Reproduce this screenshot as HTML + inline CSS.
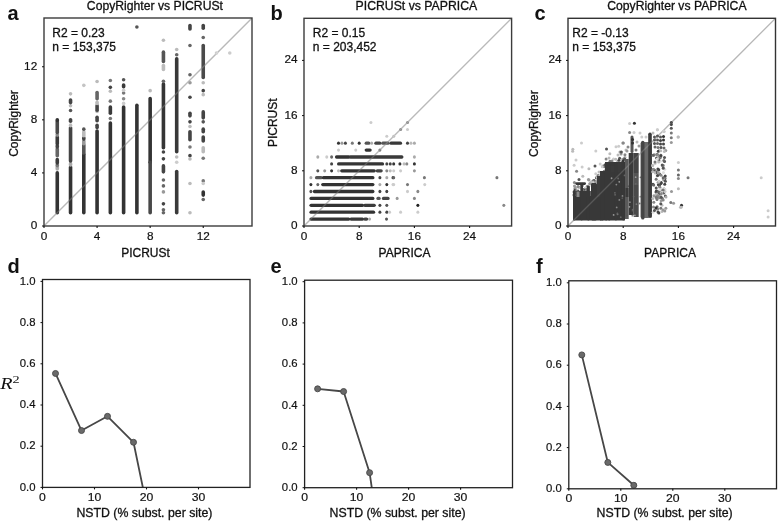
<!DOCTYPE html><html><head><meta charset="utf-8"><style>html,body{margin:0;padding:0;background:#fff;width:778px;height:521px;overflow:hidden}svg{display:block}</style></head><body>
<svg width="778" height="521" viewBox="0 0 778 521">
<rect width="778" height="521" fill="#fff"/>
<g style="will-change:transform">
<svg x="0" y="0" width="778" height="521" overflow="visible">
<defs><clipPath id="ca"><rect x="44.0" y="18.0" width="208.0" height="208.0"/></clipPath></defs>
<g clip-path="url(#ca)">
<line x1="44.0" y1="226.0" x2="252.0" y2="18.0" stroke="#a8a8a8" stroke-width="1.25"/>
<rect x="55.47" y="171.12" width="3.60" height="43.41" rx="1.80" fill="#333"/>
<rect x="55.47" y="165.15" width="3.60" height="5.59" rx="1.80" fill="#aaa"/>
<rect x="55.47" y="163.16" width="3.60" height="4.26" rx="1.80" fill="#777"/>
<rect x="55.47" y="157.85" width="3.60" height="6.92" rx="1.80" fill="#3c3c3c"/>
<rect x="55.47" y="147.23" width="3.60" height="10.24" rx="1.80" fill="#666"/>
<rect x="55.47" y="143.92" width="3.60" height="4.93" rx="1.80" fill="#444"/>
<rect x="55.47" y="135.29" width="3.60" height="10.24" rx="1.80" fill="#3a3a3a"/>
<rect x="55.47" y="132.64" width="3.60" height="4.26" rx="1.80" fill="#888"/>
<rect x="55.47" y="120.03" width="3.60" height="14.22" rx="1.80" fill="#4a4a4a"/>
<rect x="55.47" y="118.04" width="3.60" height="4.26" rx="1.80" fill="#333"/>
<rect x="68.74" y="165.15" width="3.60" height="49.38" rx="1.80" fill="#333"/>
<rect x="68.74" y="161.83" width="3.60" height="4.93" rx="1.80" fill="#aaa"/>
<rect x="68.74" y="126.00" width="3.60" height="36.78" rx="1.80" fill="#444"/>
<rect x="68.74" y="123.35" width="3.60" height="4.26" rx="1.80" fill="#bbb"/>
<rect x="68.74" y="118.04" width="3.60" height="4.93" rx="1.80" fill="#444"/>
<rect x="68.74" y="108.75" width="3.60" height="3.60" rx="1.80" fill="#555"/>
<rect x="68.74" y="103.97" width="3.60" height="3.60" rx="1.80" fill="#bbb"/>
<rect x="68.74" y="98.14" width="3.60" height="6.25" rx="1.80" fill="#444"/>
<rect x="68.74" y="92.03" width="3.60" height="3.60" rx="1.80" fill="#bbb"/>
<rect x="82.01" y="152.54" width="3.60" height="61.99" rx="1.80" fill="#333"/>
<rect x="82.01" y="143.25" width="3.60" height="11.56" rx="1.80" fill="#555"/>
<rect x="82.01" y="139.27" width="3.60" height="6.25" rx="1.80" fill="#999"/>
<rect x="82.01" y="135.95" width="3.60" height="4.93" rx="1.80" fill="#444"/>
<rect x="82.01" y="129.98" width="3.60" height="7.58" rx="1.80" fill="#bbb"/>
<rect x="82.01" y="127.33" width="3.60" height="3.60" rx="1.80" fill="#555"/>
<rect x="82.01" y="83.54" width="3.60" height="3.60" rx="1.80" fill="#c4c4c4"/>
<rect x="95.28" y="129.19" width="3.60" height="85.34" rx="1.80" fill="#333"/>
<rect x="95.28" y="123.48" width="3.60" height="5.86" rx="1.80" fill="#444"/>
<rect x="95.28" y="115.39" width="3.60" height="7.05" rx="1.80" fill="#444"/>
<rect x="95.28" y="109.68" width="3.60" height="3.60" rx="1.80" fill="#bbb"/>
<rect x="95.28" y="103.84" width="3.60" height="8.24" rx="1.80" fill="#444"/>
<rect x="95.28" y="100.52" width="3.60" height="4.66" rx="1.80" fill="#bbb"/>
<rect x="95.28" y="90.70" width="3.60" height="9.84" rx="1.80" fill="#666"/>
<rect x="95.28" y="79.69" width="3.60" height="3.60" rx="1.80" fill="#bbb"/>
<rect x="108.55" y="121.22" width="3.60" height="93.31" rx="1.80" fill="#333"/>
<rect x="108.55" y="116.71" width="3.60" height="3.60" rx="1.80" fill="#777"/>
<rect x="108.55" y="105.17" width="3.60" height="9.84" rx="1.80" fill="#3a3a3a"/>
<rect x="108.55" y="99.33" width="3.60" height="3.60" rx="1.80" fill="#777"/>
<rect x="108.55" y="89.51" width="3.60" height="3.60" rx="1.80" fill="#bbb"/>
<rect x="108.55" y="85.53" width="3.60" height="3.60" rx="1.80" fill="#444"/>
<rect x="108.55" y="78.63" width="3.60" height="3.60" rx="1.80" fill="#777"/>
<rect x="121.82" y="105.17" width="3.60" height="109.36" rx="1.80" fill="#333"/>
<rect x="121.82" y="101.59" width="3.60" height="3.60" rx="1.80" fill="#ccc"/>
<rect x="121.82" y="96.94" width="3.60" height="3.60" rx="1.80" fill="#888"/>
<rect x="121.82" y="91.23" width="3.60" height="3.60" rx="1.80" fill="#777"/>
<rect x="121.82" y="88.45" width="3.60" height="3.60" rx="1.80" fill="#ccc"/>
<rect x="121.82" y="83.27" width="3.60" height="5.19" rx="1.80" fill="#3a3a3a"/>
<rect x="121.82" y="77.96" width="3.60" height="3.60" rx="1.80" fill="#555"/>
<rect x="135.09" y="103.44" width="3.60" height="111.09" rx="1.80" fill="#333"/>
<rect x="135.09" y="25.15" width="3.60" height="3.60" rx="1.80" fill="#555"/>
<rect x="148.36" y="96.81" width="3.60" height="67.30" rx="1.80" fill="#333"/>
<rect x="148.36" y="160.50" width="3.60" height="54.03" rx="1.80" fill="#484848"/>
<rect x="148.36" y="88.85" width="3.60" height="3.60" rx="1.80" fill="#bbb"/>
<rect x="161.63" y="82.21" width="3.60" height="67.30" rx="1.80" fill="#353535"/>
<rect x="161.63" y="150.15" width="3.60" height="3.60" rx="1.80" fill="#444"/>
<rect x="161.63" y="157.05" width="3.60" height="3.60" rx="1.80" fill="#444"/>
<rect x="161.63" y="164.09" width="3.60" height="9.57" rx="1.80" fill="#444"/>
<rect x="161.63" y="178.15" width="3.60" height="3.60" rx="1.80" fill="#666"/>
<rect x="161.63" y="184.12" width="3.60" height="3.60" rx="1.80" fill="#666"/>
<rect x="161.63" y="190.10" width="3.60" height="3.60" rx="1.80" fill="#999"/>
<rect x="161.63" y="202.04" width="3.60" height="3.60" rx="1.80" fill="#444"/>
<rect x="161.63" y="208.01" width="3.60" height="3.60" rx="1.80" fill="#666"/>
<rect x="161.63" y="210.93" width="3.60" height="3.60" rx="1.80" fill="#666"/>
<rect x="161.63" y="79.56" width="3.60" height="3.60" rx="1.80" fill="#666"/>
<rect x="161.63" y="63.63" width="3.60" height="7.58" rx="1.80" fill="#bbb"/>
<rect x="161.63" y="50.36" width="3.60" height="12.89" rx="1.80" fill="#555"/>
<rect x="161.63" y="38.42" width="3.60" height="3.60" rx="1.80" fill="#bbb"/>
<rect x="174.90" y="57.00" width="3.60" height="96.49" rx="1.80" fill="#383838"/>
<rect x="174.90" y="169.79" width="3.60" height="44.74" rx="1.80" fill="#3a3a3a"/>
<rect x="174.90" y="155.20" width="3.60" height="3.60" rx="1.80" fill="#bbb"/>
<rect x="174.90" y="160.50" width="3.60" height="3.60" rx="1.80" fill="#ccc"/>
<rect x="174.90" y="53.02" width="3.60" height="3.60" rx="1.80" fill="#666"/>
<rect x="174.90" y="47.71" width="3.60" height="3.60" rx="1.80" fill="#bbb"/>
<rect x="188.17" y="23.82" width="3.60" height="6.92" rx="1.80" fill="#444"/>
<rect x="188.17" y="43.73" width="3.60" height="3.60" rx="1.80" fill="#666"/>
<rect x="188.17" y="72.92" width="3.60" height="3.60" rx="1.80" fill="#666"/>
<rect x="188.17" y="80.88" width="3.60" height="3.60" rx="1.80" fill="#999"/>
<rect x="188.17" y="95.48" width="3.60" height="3.60" rx="1.80" fill="#444"/>
<rect x="188.17" y="111.41" width="3.60" height="6.25" rx="1.80" fill="#444"/>
<rect x="188.17" y="120.03" width="3.60" height="3.60" rx="1.80" fill="#444"/>
<rect x="188.17" y="124.68" width="3.60" height="3.60" rx="1.80" fill="#bbb"/>
<rect x="188.17" y="129.98" width="3.60" height="11.56" rx="1.80" fill="#444"/>
<rect x="188.17" y="145.24" width="3.60" height="3.60" rx="1.80" fill="#777"/>
<rect x="188.17" y="153.87" width="3.60" height="3.60" rx="1.80" fill="#444"/>
<rect x="188.17" y="157.19" width="3.60" height="3.60" rx="1.80" fill="#bbb"/>
<rect x="188.17" y="181.74" width="3.60" height="3.60" rx="1.80" fill="#bbb"/>
<rect x="188.17" y="210.93" width="3.60" height="3.60" rx="1.80" fill="#bbb"/>
<rect x="201.44" y="23.82" width="3.60" height="6.25" rx="1.80" fill="#444"/>
<rect x="201.44" y="35.77" width="3.60" height="3.60" rx="1.80" fill="#666"/>
<rect x="201.44" y="43.73" width="3.60" height="35.45" rx="1.80" fill="#4a4a4a"/>
<rect x="201.44" y="80.88" width="3.60" height="3.60" rx="1.80" fill="#bbb"/>
<rect x="201.44" y="88.85" width="3.60" height="3.60" rx="1.80" fill="#444"/>
<rect x="201.44" y="92.83" width="3.60" height="3.60" rx="1.80" fill="#bbb"/>
<rect x="201.44" y="110.08" width="3.60" height="9.57" rx="1.80" fill="#444"/>
<rect x="201.44" y="120.03" width="3.60" height="3.60" rx="1.80" fill="#555"/>
<rect x="201.44" y="127.33" width="3.60" height="6.25" rx="1.80" fill="#444"/>
<rect x="201.44" y="135.29" width="3.60" height="7.58" rx="1.80" fill="#444"/>
<rect x="201.44" y="145.91" width="3.60" height="7.58" rx="1.80" fill="#bbb"/>
<rect x="201.44" y="156.52" width="3.60" height="3.60" rx="1.80" fill="#777"/>
<rect x="201.44" y="179.08" width="3.60" height="3.60" rx="1.80" fill="#777"/>
<rect x="201.44" y="181.74" width="3.60" height="3.60" rx="1.80" fill="#ccc"/>
<rect x="201.44" y="190.23" width="3.60" height="6.65" rx="1.80" fill="#333"/>
<rect x="201.44" y="197.66" width="3.60" height="3.60" rx="1.80" fill="#666"/>
<rect x="214.71" y="51.16" width="3.60" height="3.60" rx="1.80" fill="#ccc"/>
<rect x="227.98" y="51.16" width="3.60" height="3.60" rx="1.80" fill="#ccc"/>
<line x1="44.0" y1="226.0" x2="252.0" y2="18.0" stroke="#fff" stroke-opacity="0.2" stroke-width="1.25"/>
</g>
</svg>
<rect x="44.00" y="18.00" width="208.00" height="208.00" fill="none" stroke="#3c3c3c" stroke-width="1.4"/>
<line x1="44.00" y1="226.00" x2="44.00" y2="228.00" stroke="#111" stroke-width="1.1"/>
<line x1="97.08" y1="226.00" x2="97.08" y2="228.00" stroke="#111" stroke-width="1.1"/>
<line x1="150.16" y1="226.00" x2="150.16" y2="228.00" stroke="#111" stroke-width="1.1"/>
<line x1="203.24" y1="226.00" x2="203.24" y2="228.00" stroke="#111" stroke-width="1.1"/>
<line x1="42.00" y1="226.00" x2="44.00" y2="226.00" stroke="#111" stroke-width="1"/>
<line x1="42.00" y1="172.92" x2="44.00" y2="172.92" stroke="#111" stroke-width="1"/>
<line x1="42.00" y1="119.84" x2="44.00" y2="119.84" stroke="#111" stroke-width="1"/>
<line x1="42.00" y1="66.76" x2="44.00" y2="66.76" stroke="#111" stroke-width="1"/>
<text transform="translate(44.00,240.00) scale(1.1,1)" font-family='"Liberation Sans", sans-serif' font-size="10.7" text-anchor="middle" fill="#111" stroke="#111" stroke-width="0.18">0</text>
<text transform="translate(37.20,228.80) scale(1.1,1)" font-family='"Liberation Sans", sans-serif' font-size="10.7" text-anchor="end" fill="#111" stroke="#111" stroke-width="0.18">0</text>
<text transform="translate(97.08,240.00) scale(1.1,1)" font-family='"Liberation Sans", sans-serif' font-size="10.7" text-anchor="middle" fill="#111" stroke="#111" stroke-width="0.18">4</text>
<text transform="translate(37.20,175.72) scale(1.1,1)" font-family='"Liberation Sans", sans-serif' font-size="10.7" text-anchor="end" fill="#111" stroke="#111" stroke-width="0.18">4</text>
<text transform="translate(150.16,240.00) scale(1.1,1)" font-family='"Liberation Sans", sans-serif' font-size="10.7" text-anchor="middle" fill="#111" stroke="#111" stroke-width="0.18">8</text>
<text transform="translate(37.20,122.64) scale(1.1,1)" font-family='"Liberation Sans", sans-serif' font-size="10.7" text-anchor="end" fill="#111" stroke="#111" stroke-width="0.18">8</text>
<text transform="translate(203.24,240.00) scale(1.1,1)" font-family='"Liberation Sans", sans-serif' font-size="10.7" text-anchor="middle" fill="#111" stroke="#111" stroke-width="0.18">12</text>
<text transform="translate(37.20,69.56) scale(1.1,1)" font-family='"Liberation Sans", sans-serif' font-size="10.7" text-anchor="end" fill="#111" stroke="#111" stroke-width="0.18">12</text>
<text x="154.90" y="10.00" font-family='"Liberation Sans", sans-serif' font-size="12.2" font-weight="400" text-anchor="middle" fill="#111" stroke="#111" stroke-width="0.3" >CopyRighter vs PICRUSt</text>
<text x="145.50" y="257.00" font-family='"Liberation Sans", sans-serif' font-size="12" font-weight="400" text-anchor="middle" fill="#111" stroke="#111" stroke-width="0.3" >PICRUSt</text>
<text x="18.00" y="123.50" font-family='"Liberation Sans", sans-serif' font-size="12" font-weight="400" text-anchor="middle" fill="#111" stroke="#111" stroke-width="0.3" transform="rotate(-90 18 123.5)">CopyRighter</text>
<text x="52.30" y="36.50" font-family='"Liberation Sans", sans-serif' font-size="12" font-weight="400" text-anchor="start" fill="#111" stroke="#111" stroke-width="0.3" >R2 = 0.23</text>
<text x="52.30" y="50.80" font-family='"Liberation Sans", sans-serif' font-size="12" font-weight="400" text-anchor="start" fill="#111" stroke="#111" stroke-width="0.3" >n = 153,375</text>
<text x="7.50" y="19.70" font-family='"Liberation Sans", sans-serif' font-size="20" font-weight="700" text-anchor="start" fill="#111" stroke="#111" stroke-width="0" >a</text>
<defs><clipPath id="cb"><rect x="304.0" y="18.3" width="207.60000000000002" height="207.7"/></clipPath></defs>
<g clip-path="url(#cb)">
<line x1="304.0" y1="226.0" x2="511.6" y2="18.3" stroke="#a8a8a8" stroke-width="1.25"/>
<rect x="309.40" y="217.45" width="40.95" height="3.30" ry="1.65" fill="#333"/>
<rect x="349.42" y="217.45" width="14.73" height="3.30" ry="1.65" fill="#383838"/>
<rect x="363.22" y="217.45" width="5.07" height="3.30" ry="1.65" fill="#444"/>
<rect x="368.05" y="217.45" width="3.00" height="3.30" ry="1.65" fill="#aaa"/>
<rect x="385.02" y="217.45" width="3.00" height="3.30" ry="1.65" fill="#555"/>
<rect x="309.40" y="210.55" width="65.79" height="3.30" ry="1.65" fill="#333"/>
<rect x="378.40" y="210.55" width="3.00" height="3.30" ry="1.65" fill="#444"/>
<rect x="385.30" y="210.55" width="3.00" height="3.30" ry="1.65" fill="#444"/>
<rect x="388.06" y="210.55" width="3.00" height="3.30" ry="1.65" fill="#ccc"/>
<rect x="399.10" y="210.55" width="3.00" height="3.30" ry="1.65" fill="#ccc"/>
<rect x="416.35" y="210.55" width="3.00" height="3.30" ry="1.65" fill="#ccc"/>
<rect x="309.40" y="203.65" width="54.75" height="3.30" ry="1.65" fill="#333"/>
<rect x="363.22" y="203.65" width="12.66" height="3.30" ry="1.65" fill="#3c3c3c"/>
<rect x="378.40" y="203.65" width="3.00" height="3.30" ry="1.65" fill="#444"/>
<rect x="385.30" y="203.65" width="3.00" height="3.30" ry="1.65" fill="#555"/>
<rect x="416.35" y="203.65" width="3.00" height="3.30" ry="1.65" fill="#222"/>
<rect x="502.32" y="203.65" width="3.00" height="3.30" ry="1.65" fill="#888"/>
<rect x="309.40" y="196.75" width="65.10" height="3.30" ry="1.65" fill="#333"/>
<rect x="376.33" y="196.75" width="4.38" height="3.30" ry="1.65" fill="#555"/>
<rect x="381.85" y="196.75" width="7.83" height="3.30" ry="1.65" fill="#444"/>
<rect x="395.65" y="196.75" width="3.00" height="3.30" ry="1.65" fill="#999"/>
<rect x="412.90" y="196.75" width="3.00" height="3.30" ry="1.65" fill="#888"/>
<rect x="309.40" y="189.85" width="3.00" height="3.30" ry="1.65" fill="#555"/>
<rect x="312.85" y="189.85" width="61.65" height="3.30" ry="1.65" fill="#333"/>
<rect x="378.40" y="189.85" width="3.00" height="3.30" ry="1.65" fill="#444"/>
<rect x="385.30" y="189.85" width="3.00" height="3.30" ry="1.65" fill="#444"/>
<rect x="406.00" y="189.85" width="3.00" height="3.30" ry="1.65" fill="#ccc"/>
<rect x="416.35" y="189.85" width="3.00" height="3.30" ry="1.65" fill="#888"/>
<rect x="309.40" y="182.95" width="3.00" height="3.30" ry="1.65" fill="#333"/>
<rect x="316.30" y="182.95" width="3.00" height="3.30" ry="1.65" fill="#666"/>
<rect x="321.13" y="182.95" width="53.37" height="3.30" ry="1.65" fill="#333"/>
<rect x="378.40" y="182.95" width="3.00" height="3.30" ry="1.65" fill="#aaa"/>
<rect x="385.30" y="182.95" width="3.00" height="3.30" ry="1.65" fill="#333"/>
<rect x="391.51" y="182.95" width="3.00" height="3.30" ry="1.65" fill="#ccc"/>
<rect x="392.20" y="182.95" width="3.00" height="3.30" ry="1.65" fill="#ccc"/>
<rect x="406.00" y="182.95" width="3.00" height="3.30" ry="1.65" fill="#777"/>
<rect x="423.25" y="182.95" width="3.00" height="3.30" ry="1.65" fill="#ccc"/>
<rect x="309.40" y="176.05" width="3.00" height="3.30" ry="1.65" fill="#aaa"/>
<rect x="314.92" y="176.05" width="7.83" height="3.30" ry="1.65" fill="#555"/>
<rect x="321.82" y="176.05" width="52.68" height="3.30" ry="1.65" fill="#333"/>
<rect x="378.40" y="176.05" width="3.00" height="3.30" ry="1.65" fill="#444"/>
<rect x="385.30" y="176.05" width="3.00" height="3.30" ry="1.65" fill="#aaa"/>
<rect x="391.51" y="176.05" width="3.00" height="3.30" ry="1.65" fill="#333"/>
<rect x="392.20" y="176.05" width="3.00" height="3.30" ry="1.65" fill="#666"/>
<rect x="422.90" y="176.05" width="3.00" height="3.30" ry="1.65" fill="#777"/>
<rect x="495.42" y="176.05" width="3.00" height="3.30" ry="1.65" fill="#777"/>
<rect x="316.30" y="169.15" width="3.00" height="3.30" ry="1.65" fill="#555"/>
<rect x="323.20" y="169.15" width="3.00" height="3.30" ry="1.65" fill="#999"/>
<rect x="330.10" y="169.15" width="3.00" height="3.30" ry="1.65" fill="#333"/>
<rect x="337.00" y="169.15" width="3.00" height="3.30" ry="1.65" fill="#bbb"/>
<rect x="340.11" y="169.15" width="35.77" height="3.30" ry="1.65" fill="#333"/>
<rect x="375.64" y="169.15" width="7.14" height="3.30" ry="1.65" fill="#444"/>
<rect x="385.30" y="169.15" width="3.00" height="3.30" ry="1.65" fill="#888"/>
<rect x="388.75" y="169.15" width="3.00" height="3.30" ry="1.65" fill="#bbb"/>
<rect x="392.20" y="169.15" width="3.00" height="3.30" ry="1.65" fill="#ccc"/>
<rect x="399.10" y="169.15" width="3.00" height="3.30" ry="1.65" fill="#ccc"/>
<rect x="412.90" y="169.15" width="3.00" height="3.30" ry="1.65" fill="#999"/>
<rect x="330.10" y="162.25" width="3.00" height="3.30" ry="1.65" fill="#444"/>
<rect x="337.00" y="162.25" width="47.16" height="3.30" ry="1.65" fill="#353535"/>
<rect x="385.30" y="162.25" width="3.00" height="3.30" ry="1.65" fill="#444"/>
<rect x="388.75" y="162.25" width="3.00" height="3.30" ry="1.65" fill="#444"/>
<rect x="392.20" y="162.25" width="3.00" height="3.30" ry="1.65" fill="#333"/>
<rect x="398.41" y="162.25" width="3.00" height="3.30" ry="1.65" fill="#333"/>
<rect x="402.55" y="162.25" width="3.00" height="3.30" ry="1.65" fill="#bbb"/>
<rect x="405.31" y="162.25" width="3.00" height="3.30" ry="1.65" fill="#888"/>
<rect x="412.90" y="162.25" width="3.00" height="3.30" ry="1.65" fill="#333"/>
<rect x="316.30" y="155.35" width="3.00" height="3.30" ry="1.65" fill="#aaa"/>
<rect x="325.27" y="155.35" width="3.00" height="3.30" ry="1.65" fill="#ccc"/>
<rect x="330.10" y="155.35" width="3.00" height="3.30" ry="1.65" fill="#666"/>
<rect x="334.93" y="155.35" width="15.42" height="3.30" ry="1.65" fill="#333"/>
<rect x="348.73" y="155.35" width="54.75" height="3.30" ry="1.65" fill="#3a3a3a"/>
<rect x="412.90" y="155.35" width="3.00" height="3.30" ry="1.65" fill="#aaa"/>
<rect x="337.00" y="148.45" width="3.00" height="3.30" ry="1.65" fill="#ccc"/>
<rect x="354.25" y="148.45" width="3.00" height="3.30" ry="1.65" fill="#ccc"/>
<rect x="364.60" y="148.45" width="7.14" height="3.30" ry="1.65" fill="#333"/>
<rect x="378.40" y="148.45" width="3.00" height="3.30" ry="1.65" fill="#777"/>
<rect x="337.00" y="141.55" width="3.00" height="3.30" ry="1.65" fill="#333"/>
<rect x="340.45" y="141.55" width="3.00" height="3.30" ry="1.65" fill="#999"/>
<rect x="343.90" y="141.55" width="3.00" height="3.30" ry="1.65" fill="#444"/>
<rect x="350.80" y="141.55" width="3.00" height="3.30" ry="1.65" fill="#777"/>
<rect x="357.70" y="141.55" width="3.00" height="3.30" ry="1.65" fill="#333"/>
<rect x="364.60" y="141.55" width="5.76" height="3.30" ry="1.65" fill="#555"/>
<rect x="370.12" y="141.55" width="3.00" height="3.30" ry="1.65" fill="#aaa"/>
<rect x="374.26" y="141.55" width="7.14" height="3.30" ry="1.65" fill="#444"/>
<rect x="381.16" y="141.55" width="8.52" height="3.30" ry="1.65" fill="#555"/>
<rect x="389.44" y="141.55" width="12.66" height="3.30" ry="1.65" fill="#383838"/>
<rect x="406.00" y="141.55" width="3.00" height="3.30" ry="1.65" fill="#444"/>
<rect x="409.45" y="141.55" width="3.00" height="3.30" ry="1.65" fill="#bbb"/>
<rect x="412.90" y="141.55" width="3.00" height="3.30" ry="1.65" fill="#aaa"/>
<circle cx="370.93" cy="122.50" r="1.50" fill="#ccc"/>
<circle cx="386.80" cy="136.30" r="1.50" fill="#ccc"/>
<circle cx="393.70" cy="136.30" r="1.50" fill="#bbb"/>
<circle cx="400.60" cy="129.40" r="1.50" fill="#888"/>
<circle cx="407.50" cy="122.50" r="1.50" fill="#888"/>
<circle cx="407.50" cy="129.40" r="1.50" fill="#ccc"/>
<line x1="304.0" y1="226.0" x2="511.6" y2="18.3" stroke="#fff" stroke-opacity="0.2" stroke-width="1.25"/>
</g>
<rect x="304.00" y="18.30" width="207.60" height="207.70" fill="none" stroke="#3c3c3c" stroke-width="1.4"/>
<line x1="304.00" y1="226.00" x2="304.00" y2="228.00" stroke="#111" stroke-width="1.1"/>
<line x1="359.20" y1="226.00" x2="359.20" y2="228.00" stroke="#111" stroke-width="1.1"/>
<line x1="414.40" y1="226.00" x2="414.40" y2="228.00" stroke="#111" stroke-width="1.1"/>
<line x1="469.60" y1="226.00" x2="469.60" y2="228.00" stroke="#111" stroke-width="1.1"/>
<line x1="302.00" y1="226.00" x2="304.00" y2="226.00" stroke="#111" stroke-width="1"/>
<line x1="302.00" y1="170.80" x2="304.00" y2="170.80" stroke="#111" stroke-width="1"/>
<line x1="302.00" y1="115.60" x2="304.00" y2="115.60" stroke="#111" stroke-width="1"/>
<line x1="302.00" y1="60.40" x2="304.00" y2="60.40" stroke="#111" stroke-width="1"/>
<text transform="translate(304.00,240.00) scale(1.1,1)" font-family='"Liberation Sans", sans-serif' font-size="10.7" text-anchor="middle" fill="#111" stroke="#111" stroke-width="0.18">0</text>
<text transform="translate(297.60,228.90) scale(1.1,1)" font-family='"Liberation Sans", sans-serif' font-size="10.7" text-anchor="end" fill="#111" stroke="#111" stroke-width="0.18">0</text>
<text transform="translate(359.20,240.00) scale(1.1,1)" font-family='"Liberation Sans", sans-serif' font-size="10.7" text-anchor="middle" fill="#111" stroke="#111" stroke-width="0.18">8</text>
<text transform="translate(297.60,173.70) scale(1.1,1)" font-family='"Liberation Sans", sans-serif' font-size="10.7" text-anchor="end" fill="#111" stroke="#111" stroke-width="0.18">8</text>
<text transform="translate(414.40,240.00) scale(1.1,1)" font-family='"Liberation Sans", sans-serif' font-size="10.7" text-anchor="middle" fill="#111" stroke="#111" stroke-width="0.18">16</text>
<text transform="translate(297.60,118.50) scale(1.1,1)" font-family='"Liberation Sans", sans-serif' font-size="10.7" text-anchor="end" fill="#111" stroke="#111" stroke-width="0.18">16</text>
<text transform="translate(469.60,240.00) scale(1.1,1)" font-family='"Liberation Sans", sans-serif' font-size="10.7" text-anchor="middle" fill="#111" stroke="#111" stroke-width="0.18">24</text>
<text transform="translate(297.60,63.30) scale(1.1,1)" font-family='"Liberation Sans", sans-serif' font-size="10.7" text-anchor="end" fill="#111" stroke="#111" stroke-width="0.18">24</text>
<text x="416.40" y="10.30" font-family='"Liberation Sans", sans-serif' font-size="12.25" font-weight="400" text-anchor="middle" fill="#111" stroke="#111" stroke-width="0.3" >PICRUSt vs PAPRICA</text>
<text x="404.50" y="256.50" font-family='"Liberation Sans", sans-serif' font-size="12" font-weight="400" text-anchor="middle" fill="#111" stroke="#111" stroke-width="0.3" >PAPRICA</text>
<text x="277.20" y="122.70" font-family='"Liberation Sans", sans-serif' font-size="12" font-weight="400" text-anchor="middle" fill="#111" stroke="#111" stroke-width="0.3" transform="rotate(-90 277.2 122.7)">PICRUSt</text>
<text x="312.80" y="36.50" font-family='"Liberation Sans", sans-serif' font-size="12" font-weight="400" text-anchor="start" fill="#111" stroke="#111" stroke-width="0.3" >R2 = 0.15</text>
<text x="312.80" y="50.80" font-family='"Liberation Sans", sans-serif' font-size="12" font-weight="400" text-anchor="start" fill="#111" stroke="#111" stroke-width="0.3" >n = 203,452</text>
<text x="270.50" y="19.70" font-family='"Liberation Sans", sans-serif' font-size="20" font-weight="700" text-anchor="start" fill="#111" stroke="#111" stroke-width="0" >b</text>
<defs><clipPath id="cc"><rect x="568.0" y="18.3" width="207.5" height="207.7"/></clipPath></defs>
<g clip-path="url(#cc)">
<line x1="568.0" y1="226.0" x2="775.5" y2="18.3" stroke="#a8a8a8" stroke-width="1.25"/>
<circle cx="581.50" cy="143.00" r="1.50" fill="#ccc"/>
<circle cx="595.80" cy="151.10" r="1.50" fill="#ccc"/>
<circle cx="574.10" cy="165.20" r="1.50" fill="#ccc"/>
<circle cx="576.60" cy="171.30" r="1.50" fill="#888"/>
<circle cx="582.80" cy="176.20" r="1.50" fill="#bbb"/>
<circle cx="588.90" cy="168.80" r="1.50" fill="#bbb"/>
<circle cx="595.00" cy="165.90" r="1.50" fill="#555"/>
<circle cx="599.00" cy="172.00" r="1.50" fill="#bbb"/>
<circle cx="606.10" cy="159.00" r="1.50" fill="#888"/>
<circle cx="613.50" cy="159.00" r="1.50" fill="#ccc"/>
<circle cx="623.30" cy="143.00" r="1.50" fill="#888"/>
<circle cx="616.00" cy="146.70" r="1.50" fill="#ccc"/>
<circle cx="629.60" cy="123.40" r="1.50" fill="#ccc"/>
<circle cx="634.40" cy="123.20" r="1.50" fill="#333"/>
<circle cx="629.60" cy="132.60" r="1.50" fill="#888"/>
<circle cx="634.00" cy="132.60" r="1.50" fill="#ccc"/>
<circle cx="641.80" cy="136.90" r="1.50" fill="#ccc"/>
<circle cx="622.90" cy="143.10" r="1.50" fill="#888"/>
<circle cx="657.40" cy="129.70" r="1.50" fill="#ccc"/>
<circle cx="664.00" cy="131.50" r="1.50" fill="#ccc"/>
<circle cx="678.00" cy="136.90" r="1.50" fill="#bbb"/>
<circle cx="574.50" cy="186.00" r="1.50" fill="#999"/>
<circle cx="575.00" cy="189.00" r="1.50" fill="#444"/>
<circle cx="578.00" cy="187.00" r="1.50" fill="#bbb"/>
<circle cx="585.00" cy="189.00" r="1.50" fill="#777"/>
<circle cx="578.00" cy="191.00" r="1.50" fill="#555"/>
<circle cx="584.00" cy="192.00" r="1.50" fill="#666"/>
<circle cx="589.00" cy="180.00" r="1.50" fill="#999"/>
<circle cx="603.00" cy="166.00" r="1.50" fill="#999"/>
<circle cx="609.00" cy="158.00" r="1.50" fill="#bbb"/>
<circle cx="612.00" cy="161.00" r="1.50" fill="#888"/>
<circle cx="618.00" cy="155.00" r="1.50" fill="#bbb"/>
<circle cx="620.00" cy="152.00" r="1.50" fill="#999"/>
<circle cx="626.00" cy="150.00" r="1.50" fill="#bbb"/>
<circle cx="586.50" cy="190.00" r="1.50" fill="#777"/>
<circle cx="579.00" cy="179.50" r="1.50" fill="#555"/>
<circle cx="598.00" cy="178.00" r="1.50" fill="#999"/>
<circle cx="576.00" cy="160.00" r="1.50" fill="#ccc"/>
<circle cx="596.43" cy="177.74" r="1.50" fill="#444"/>
<circle cx="597.15" cy="177.45" r="1.50" fill="#ccc"/>
<circle cx="582.25" cy="184.36" r="1.50" fill="#555"/>
<circle cx="606.01" cy="164.90" r="1.50" fill="#bbb"/>
<circle cx="596.12" cy="181.08" r="1.50" fill="#ccc"/>
<circle cx="615.72" cy="159.18" r="1.50" fill="#bbb"/>
<circle cx="604.15" cy="171.42" r="1.50" fill="#555"/>
<circle cx="607.31" cy="166.50" r="1.50" fill="#999"/>
<circle cx="605.65" cy="164.30" r="1.50" fill="#bbb"/>
<circle cx="575.22" cy="193.64" r="1.50" fill="#999"/>
<circle cx="604.38" cy="166.71" r="1.50" fill="#777"/>
<circle cx="595.79" cy="173.82" r="1.50" fill="#ccc"/>
<circle cx="584.62" cy="189.15" r="1.50" fill="#bbb"/>
<circle cx="607.77" cy="167.62" r="1.50" fill="#777"/>
<circle cx="593.97" cy="180.53" r="1.50" fill="#444"/>
<circle cx="576.49" cy="192.74" r="1.50" fill="#444"/>
<circle cx="584.40" cy="189.27" r="1.50" fill="#bbb"/>
<circle cx="602.41" cy="174.78" r="1.50" fill="#bbb"/>
<circle cx="617.72" cy="161.22" r="1.50" fill="#bbb"/>
<circle cx="617.75" cy="163.40" r="1.50" fill="#999"/>
<circle cx="622.06" cy="160.84" r="1.50" fill="#555"/>
<circle cx="624.94" cy="157.25" r="1.50" fill="#bbb"/>
<circle cx="602.58" cy="174.14" r="1.50" fill="#888"/>
<circle cx="586.57" cy="189.50" r="1.50" fill="#777"/>
<circle cx="572.82" cy="149.13" r="1.50" fill="#bbb"/>
<circle cx="579.27" cy="187.39" r="1.50" fill="#bbb"/>
<circle cx="575.23" cy="187.40" r="1.50" fill="#999"/>
<circle cx="608.83" cy="168.46" r="1.50" fill="#ccc"/>
<circle cx="582.30" cy="185.75" r="1.50" fill="#999"/>
<circle cx="594.64" cy="181.22" r="1.50" fill="#555"/>
<circle cx="594.72" cy="182.23" r="1.50" fill="#777"/>
<circle cx="618.67" cy="146.33" r="1.50" fill="#ccc"/>
<circle cx="588.42" cy="179.42" r="1.50" fill="#999"/>
<circle cx="582.11" cy="167.08" r="1.50" fill="#ccc"/>
<circle cx="606.66" cy="170.92" r="1.50" fill="#999"/>
<circle cx="583.52" cy="189.83" r="1.50" fill="#444"/>
<circle cx="604.96" cy="164.97" r="1.50" fill="#555"/>
<circle cx="575.96" cy="193.85" r="1.50" fill="#ccc"/>
<circle cx="606.38" cy="171.59" r="1.50" fill="#777"/>
<circle cx="592.07" cy="183.50" r="1.50" fill="#ccc"/>
<circle cx="598.12" cy="175.72" r="1.50" fill="#444"/>
<circle cx="592.85" cy="180.93" r="1.50" fill="#777"/>
<circle cx="621.05" cy="153.96" r="1.50" fill="#999"/>
<circle cx="611.17" cy="166.48" r="1.50" fill="#888"/>
<circle cx="622.78" cy="159.71" r="1.50" fill="#555"/>
<circle cx="619.64" cy="158.22" r="1.50" fill="#555"/>
<circle cx="574.56" cy="194.34" r="1.50" fill="#ccc"/>
<circle cx="623.98" cy="158.82" r="1.50" fill="#888"/>
<circle cx="593.15" cy="182.58" r="1.50" fill="#ccc"/>
<circle cx="598.51" cy="175.83" r="1.50" fill="#888"/>
<circle cx="624.77" cy="159.02" r="1.50" fill="#555"/>
<circle cx="602.21" cy="166.87" r="1.50" fill="#ccc"/>
<circle cx="576.00" cy="193.19" r="1.50" fill="#999"/>
<circle cx="612.45" cy="165.94" r="1.50" fill="#555"/>
<circle cx="596.07" cy="181.54" r="1.50" fill="#999"/>
<circle cx="587.23" cy="186.24" r="1.50" fill="#999"/>
<circle cx="576.98" cy="193.19" r="1.50" fill="#555"/>
<circle cx="624.95" cy="154.71" r="1.50" fill="#888"/>
<circle cx="600.18" cy="164.12" r="1.50" fill="#ccc"/>
<circle cx="573.89" cy="195.05" r="1.50" fill="#777"/>
<circle cx="609.85" cy="153.66" r="1.50" fill="#bbb"/>
<circle cx="604.31" cy="173.20" r="1.50" fill="#bbb"/>
<circle cx="611.45" cy="165.28" r="1.50" fill="#bbb"/>
<circle cx="576.06" cy="190.68" r="1.50" fill="#888"/>
<circle cx="574.40" cy="182.54" r="1.50" fill="#888"/>
<circle cx="610.00" cy="161.24" r="1.50" fill="#777"/>
<circle cx="591.00" cy="182.20" r="1.50" fill="#bbb"/>
<circle cx="619.04" cy="160.28" r="1.50" fill="#444"/>
<circle cx="573.63" cy="192.12" r="1.50" fill="#bbb"/>
<circle cx="605.75" cy="170.06" r="1.50" fill="#ccc"/>
<circle cx="572.67" cy="151.16" r="1.50" fill="#bbb"/>
<circle cx="606.53" cy="148.98" r="1.50" fill="#555"/>
<circle cx="611.32" cy="164.91" r="1.50" fill="#888"/>
<circle cx="609.48" cy="166.05" r="1.50" fill="#555"/>
<circle cx="617.27" cy="163.27" r="1.50" fill="#444"/>
<circle cx="599.78" cy="176.07" r="1.50" fill="#bbb"/>
<circle cx="597.97" cy="178.55" r="1.50" fill="#888"/>
<circle cx="578.10" cy="186.59" r="1.50" fill="#888"/>
<circle cx="621.71" cy="159.94" r="1.50" fill="#bbb"/>
<circle cx="591.87" cy="185.75" r="1.50" fill="#ccc"/>
<circle cx="582.94" cy="190.57" r="1.50" fill="#777"/>
<circle cx="607.64" cy="167.87" r="1.50" fill="#999"/>
<circle cx="589.66" cy="183.71" r="1.50" fill="#999"/>
<circle cx="606.25" cy="164.45" r="1.50" fill="#444"/>
<circle cx="621.37" cy="151.90" r="1.50" fill="#555"/>
<rect x="573" y="196" width="28" height="24.5" fill="#383838"/>
<rect x="600" y="171" width="25" height="49.5" fill="#383838"/>
<rect x="605" y="162" width="20" height="10" fill="#383838"/>
<rect x="573" y="190" width="2.7999999999999545" height="30.5" rx="1.4" fill="#383838"/>
<rect x="580.3" y="184" width="2.7000000000000455" height="36.5" rx="1.4" fill="#383838"/>
<rect x="586.8" y="185.4" width="3.1000000000000227" height="35.099999999999994" rx="1.4" fill="#383838"/>
<rect x="591" y="183" width="6" height="37.5" rx="1.4" fill="#383838"/>
<rect x="600.2" y="172.3" width="3.7999999999999545" height="48.19999999999999" rx="1.4" fill="#383838"/>
<rect x="604.6" y="169" width="3.1000000000000227" height="51.5" rx="1.4" fill="#383838"/>
<rect x="607.7" y="164.6" width="3.0" height="55.900000000000006" rx="1.4" fill="#383838"/>
<rect x="614.6" y="162" width="2.699999999999932" height="58.5" rx="1.4" fill="#383838"/>
<rect x="621.9" y="159.2" width="2.7000000000000455" height="61.30000000000001" rx="1.4" fill="#383838"/>
<rect x="575.3" y="182.3" width="10.7" height="2.6" rx="1.3" fill="#383838"/>
<rect x="575.8" y="191" width="15" height="6" fill="#383838"/>
<rect x="576.5" y="191.5" width="3" height="5.5" fill="#8a8a8a"/>
<rect x="597" y="176" width="3.2" height="21" fill="#3c3c3c"/>
<rect x="610.7" y="166" width="4" height="6" fill="#3a3a3a"/>
<rect x="617.3" y="163" width="4.6" height="9" fill="#3a3a3a"/>
<rect x="628.7" y="153" width="5" height="62" fill="#3a3a3a"/>
<rect x="633.7" y="153" width="5" height="20" fill="#444"/>
<rect x="633.7" y="185" width="5" height="32" fill="#4a4a4a"/>
<rect x="633.7" y="173" width="5" height="12" fill="#555"/>
<rect x="625" y="159" width="3.7" height="60" fill="#5a5a5a"/>
<rect x="625.5" y="188" width="3" height="9" fill="#3a3a3a"/>
<rect x="630.50" y="135.40" width="3.00" height="17.60" rx="1.50" fill="#555"/>
<circle cx="628.00" cy="147.00" r="1.50" fill="#888"/>
<circle cx="627.00" cy="151.00" r="1.50" fill="#999"/>
<circle cx="636.00" cy="150.00" r="1.50" fill="#777"/>
<circle cx="639.00" cy="146.00" r="1.50" fill="#999"/>
<circle cx="637.00" cy="142.00" r="1.50" fill="#bbb"/>
<circle cx="632.50" cy="139.50" r="1.50" fill="#333"/>
<circle cx="632.50" cy="143.00" r="1.50" fill="#333"/>
<circle cx="617.59" cy="214.36" r="0.90" fill="#777"/>
<circle cx="615.09" cy="194.84" r="0.90" fill="#666"/>
<circle cx="632.34" cy="215.70" r="0.90" fill="#888"/>
<circle cx="635.66" cy="177.19" r="0.90" fill="#999"/>
<circle cx="619.25" cy="181.85" r="0.90" fill="#999"/>
<circle cx="622.48" cy="195.92" r="0.90" fill="#888"/>
<circle cx="632.49" cy="210.73" r="0.90" fill="#555"/>
<circle cx="624.57" cy="175.44" r="0.90" fill="#666"/>
<circle cx="619.34" cy="199.95" r="0.90" fill="#888"/>
<circle cx="628.12" cy="186.22" r="0.90" fill="#555"/>
<circle cx="611.57" cy="178.25" r="0.90" fill="#999"/>
<circle cx="616.70" cy="207.38" r="0.90" fill="#888"/>
<circle cx="618.12" cy="178.48" r="0.90" fill="#666"/>
<circle cx="640.52" cy="177.30" r="0.90" fill="#666"/>
<circle cx="629.90" cy="202.13" r="0.90" fill="#888"/>
<circle cx="639.75" cy="203.49" r="0.90" fill="#777"/>
<circle cx="635.72" cy="183.78" r="0.90" fill="#666"/>
<circle cx="633.65" cy="196.60" r="0.90" fill="#666"/>
<circle cx="616.37" cy="184.53" r="0.90" fill="#888"/>
<circle cx="627.19" cy="215.55" r="0.90" fill="#555"/>
<circle cx="629.43" cy="206.79" r="0.90" fill="#999"/>
<circle cx="636.46" cy="204.19" r="0.90" fill="#777"/>
<circle cx="613.62" cy="214.90" r="0.90" fill="#999"/>
<circle cx="614.90" cy="192.86" r="0.90" fill="#666"/>
<circle cx="622.30" cy="198.17" r="0.90" fill="#555"/>
<circle cx="634.90" cy="215.44" r="0.90" fill="#999"/>
<circle cx="620.79" cy="217.19" r="0.90" fill="#666"/>
<circle cx="632.66" cy="209.64" r="0.90" fill="#666"/>
<circle cx="617.40" cy="213.40" r="0.90" fill="#666"/>
<circle cx="640.32" cy="196.70" r="0.90" fill="#888"/>
<rect x="640.5" y="142" width="11.5" height="76" rx="1.5" fill="#6a6a6a"/>
<rect x="641.10" y="140.70" width="3.40" height="78.90" rx="1.70" fill="#444"/>
<rect x="648.20" y="132.40" width="3.60" height="85.10" rx="1.80" fill="#3a3a3a"/>
<circle cx="654.50" cy="137.00" r="1.50" fill="#555"/>
<circle cx="657.50" cy="136.00" r="1.50" fill="#444"/>
<circle cx="660.50" cy="137.00" r="1.50" fill="#555"/>
<circle cx="663.50" cy="136.50" r="1.50" fill="#333"/>
<circle cx="654.50" cy="140.00" r="1.50" fill="#444"/>
<circle cx="657.50" cy="140.00" r="1.50" fill="#555"/>
<circle cx="660.50" cy="140.50" r="1.50" fill="#444"/>
<circle cx="663.50" cy="140.00" r="1.50" fill="#333"/>
<circle cx="654.50" cy="143.50" r="1.50" fill="#555"/>
<circle cx="657.50" cy="143.50" r="1.50" fill="#666"/>
<circle cx="660.50" cy="144.00" r="1.50" fill="#444"/>
<circle cx="663.50" cy="144.00" r="1.50" fill="#444"/>
<circle cx="655.00" cy="147.00" r="1.50" fill="#666"/>
<circle cx="658.00" cy="147.50" r="1.50" fill="#777"/>
<circle cx="661.00" cy="147.50" r="1.50" fill="#555"/>
<circle cx="664.00" cy="148.00" r="1.50" fill="#666"/>
<circle cx="657.40" cy="129.70" r="1.50" fill="#ccc"/>
<circle cx="664.00" cy="131.50" r="1.50" fill="#ccc"/>
<circle cx="653.00" cy="133.00" r="1.50" fill="#bbb"/>
<circle cx="646.00" cy="137.00" r="1.50" fill="#ccc"/>
<circle cx="640.00" cy="133.00" r="1.50" fill="#ccc"/>
<circle cx="656.04" cy="194.97" r="1.50" fill="#bbb"/>
<circle cx="657.20" cy="154.30" r="1.50" fill="#666"/>
<circle cx="657.12" cy="175.97" r="1.50" fill="#ccc"/>
<circle cx="659.08" cy="150.82" r="1.50" fill="#999"/>
<circle cx="658.29" cy="151.25" r="1.50" fill="#444"/>
<circle cx="657.02" cy="199.43" r="1.50" fill="#777"/>
<circle cx="658.85" cy="212.99" r="1.50" fill="#444"/>
<circle cx="663.84" cy="193.12" r="1.50" fill="#666"/>
<circle cx="660.32" cy="193.10" r="1.50" fill="#555"/>
<circle cx="658.43" cy="184.76" r="1.50" fill="#444"/>
<circle cx="661.12" cy="182.46" r="1.50" fill="#444"/>
<circle cx="655.96" cy="191.96" r="1.50" fill="#555"/>
<circle cx="656.61" cy="158.03" r="1.50" fill="#444"/>
<circle cx="659.58" cy="185.67" r="1.50" fill="#555"/>
<circle cx="658.05" cy="156.31" r="1.50" fill="#bbb"/>
<circle cx="660.67" cy="150.78" r="1.50" fill="#bbb"/>
<circle cx="659.47" cy="174.64" r="1.50" fill="#999"/>
<circle cx="659.13" cy="193.22" r="1.50" fill="#999"/>
<circle cx="665.07" cy="178.37" r="1.50" fill="#888"/>
<circle cx="656.13" cy="179.28" r="1.50" fill="#777"/>
<circle cx="657.09" cy="206.66" r="1.50" fill="#666"/>
<circle cx="659.59" cy="155.95" r="1.50" fill="#888"/>
<circle cx="660.84" cy="208.22" r="1.50" fill="#777"/>
<circle cx="661.98" cy="211.55" r="1.50" fill="#bbb"/>
<circle cx="655.12" cy="163.54" r="1.50" fill="#ccc"/>
<circle cx="656.85" cy="171.74" r="1.50" fill="#666"/>
<circle cx="653.92" cy="195.78" r="1.50" fill="#999"/>
<circle cx="664.00" cy="188.91" r="1.50" fill="#555"/>
<circle cx="661.97" cy="205.24" r="1.50" fill="#bbb"/>
<circle cx="657.57" cy="175.46" r="1.50" fill="#444"/>
<circle cx="660.81" cy="183.44" r="1.50" fill="#444"/>
<circle cx="661.12" cy="182.90" r="1.50" fill="#444"/>
<circle cx="660.76" cy="203.83" r="1.50" fill="#555"/>
<circle cx="664.85" cy="189.18" r="1.50" fill="#ddd"/>
<circle cx="664.69" cy="169.22" r="1.50" fill="#ddd"/>
<circle cx="664.52" cy="161.46" r="1.50" fill="#555"/>
<circle cx="664.48" cy="157.57" r="1.50" fill="#555"/>
<circle cx="654.29" cy="154.64" r="1.50" fill="#888"/>
<circle cx="653.81" cy="202.26" r="1.50" fill="#888"/>
<circle cx="659.83" cy="194.11" r="1.50" fill="#555"/>
<circle cx="657.94" cy="192.85" r="1.50" fill="#bbb"/>
<circle cx="653.80" cy="185.47" r="1.50" fill="#ddd"/>
<circle cx="664.80" cy="210.98" r="1.50" fill="#999"/>
<circle cx="662.01" cy="189.62" r="1.50" fill="#ddd"/>
<circle cx="659.29" cy="192.88" r="1.50" fill="#555"/>
<circle cx="663.34" cy="179.85" r="1.50" fill="#bbb"/>
<circle cx="653.01" cy="184.31" r="1.50" fill="#444"/>
<circle cx="664.72" cy="179.80" r="1.50" fill="#555"/>
<circle cx="654.99" cy="162.05" r="1.50" fill="#777"/>
<circle cx="665.87" cy="208.32" r="1.50" fill="#999"/>
<circle cx="660.33" cy="157.60" r="1.50" fill="#666"/>
<circle cx="653.55" cy="155.19" r="1.50" fill="#888"/>
<circle cx="658.80" cy="181.98" r="1.50" fill="#888"/>
<circle cx="655.34" cy="172.88" r="1.50" fill="#bbb"/>
<circle cx="663.90" cy="160.60" r="1.50" fill="#666"/>
<circle cx="657.35" cy="172.69" r="1.50" fill="#555"/>
<circle cx="660.67" cy="155.07" r="1.50" fill="#bbb"/>
<circle cx="656.87" cy="154.43" r="1.50" fill="#888"/>
<circle cx="660.19" cy="161.22" r="1.50" fill="#ddd"/>
<circle cx="663.37" cy="165.53" r="1.50" fill="#999"/>
<circle cx="662.55" cy="198.79" r="1.50" fill="#888"/>
<circle cx="654.30" cy="170.11" r="1.50" fill="#444"/>
<circle cx="661.88" cy="198.11" r="1.50" fill="#777"/>
<circle cx="657.98" cy="195.25" r="1.50" fill="#999"/>
<circle cx="663.26" cy="168.31" r="1.50" fill="#999"/>
<circle cx="652.64" cy="171.76" r="1.50" fill="#bbb"/>
<circle cx="655.63" cy="209.46" r="1.50" fill="#ccc"/>
<circle cx="657.06" cy="191.22" r="1.50" fill="#777"/>
<circle cx="659.70" cy="173.93" r="1.50" fill="#666"/>
<circle cx="661.17" cy="193.88" r="1.50" fill="#888"/>
<circle cx="665.73" cy="150.46" r="1.50" fill="#999"/>
<circle cx="662.47" cy="165.42" r="1.50" fill="#888"/>
<circle cx="659.31" cy="197.72" r="1.50" fill="#888"/>
<circle cx="652.65" cy="165.55" r="1.50" fill="#ccc"/>
<circle cx="664.73" cy="184.20" r="1.50" fill="#444"/>
<circle cx="658.11" cy="182.32" r="1.50" fill="#999"/>
<circle cx="661.11" cy="200.81" r="1.50" fill="#999"/>
<circle cx="659.92" cy="191.78" r="1.50" fill="#bbb"/>
<circle cx="657.72" cy="209.07" r="1.50" fill="#888"/>
<circle cx="658.87" cy="159.82" r="1.50" fill="#666"/>
<circle cx="659.82" cy="187.18" r="1.50" fill="#888"/>
<circle cx="665.26" cy="175.93" r="1.50" fill="#444"/>
<circle cx="657.88" cy="168.99" r="1.50" fill="#444"/>
<circle cx="656.36" cy="190.93" r="1.50" fill="#444"/>
<circle cx="665.05" cy="191.47" r="1.50" fill="#ccc"/>
<circle cx="652.86" cy="198.44" r="1.50" fill="#bbb"/>
<circle cx="661.05" cy="175.16" r="1.50" fill="#888"/>
<circle cx="653.21" cy="169.17" r="1.50" fill="#888"/>
<circle cx="653.18" cy="212.28" r="1.50" fill="#ddd"/>
<circle cx="653.49" cy="206.96" r="1.50" fill="#888"/>
<circle cx="662.21" cy="165.06" r="1.50" fill="#555"/>
<circle cx="653.11" cy="155.30" r="1.50" fill="#666"/>
<circle cx="654.45" cy="210.44" r="1.50" fill="#555"/>
<circle cx="660.65" cy="156.37" r="1.50" fill="#888"/>
<circle cx="658.65" cy="162.03" r="1.50" fill="#bbb"/>
<circle cx="657.32" cy="158.90" r="1.50" fill="#ddd"/>
<circle cx="658.48" cy="191.75" r="1.50" fill="#666"/>
<circle cx="660.61" cy="189.93" r="1.50" fill="#888"/>
<circle cx="657.41" cy="196.61" r="1.50" fill="#777"/>
<circle cx="665.36" cy="195.99" r="1.50" fill="#555"/>
<circle cx="658.99" cy="181.19" r="1.50" fill="#ccc"/>
<circle cx="663.09" cy="189.00" r="1.50" fill="#ddd"/>
<circle cx="656.21" cy="188.03" r="1.50" fill="#555"/>
<circle cx="661.05" cy="197.21" r="1.50" fill="#555"/>
<circle cx="665.35" cy="181.14" r="1.50" fill="#555"/>
<circle cx="664.36" cy="151.53" r="1.50" fill="#bbb"/>
<circle cx="652.63" cy="165.61" r="1.50" fill="#bbb"/>
<circle cx="660.92" cy="155.56" r="1.50" fill="#444"/>
<circle cx="656.26" cy="197.37" r="1.50" fill="#777"/>
<circle cx="659.93" cy="189.39" r="1.50" fill="#ddd"/>
<circle cx="659.03" cy="171.66" r="1.50" fill="#ddd"/>
<circle cx="657.14" cy="196.67" r="1.50" fill="#999"/>
<circle cx="663.33" cy="177.63" r="1.50" fill="#555"/>
<circle cx="658.50" cy="196.83" r="1.50" fill="#888"/>
<circle cx="663.43" cy="172.61" r="1.50" fill="#ddd"/>
<circle cx="656.43" cy="197.58" r="1.50" fill="#777"/>
<circle cx="658.27" cy="172.63" r="1.50" fill="#999"/>
<circle cx="658.74" cy="169.75" r="1.50" fill="#444"/>
<circle cx="653.62" cy="185.11" r="1.50" fill="#666"/>
<circle cx="663.51" cy="178.66" r="1.50" fill="#bbb"/>
<circle cx="663.20" cy="168.00" r="1.50" fill="#555"/>
<circle cx="663.20" cy="178.00" r="1.50" fill="#666"/>
<circle cx="663.20" cy="190.00" r="1.50" fill="#777"/>
<circle cx="663.20" cy="200.00" r="1.50" fill="#888"/>
<circle cx="663.20" cy="210.00" r="1.50" fill="#999"/>
<circle cx="656.00" cy="208.00" r="1.50" fill="#333"/>
<circle cx="658.00" cy="212.00" r="1.50" fill="#444"/>
<circle cx="671.30" cy="122.50" r="1.50" fill="#333"/>
<circle cx="671.30" cy="124.40" r="1.50" fill="#444"/>
<circle cx="671.30" cy="128.20" r="1.50" fill="#555"/>
<circle cx="671.30" cy="133.00" r="1.50" fill="#777"/>
<circle cx="671.30" cy="137.80" r="1.50" fill="#777"/>
<circle cx="671.30" cy="142.60" r="1.50" fill="#999"/>
<circle cx="678.40" cy="136.99" r="1.50" fill="#bbb"/>
<circle cx="678.40" cy="162.52" r="1.50" fill="#ccc"/>
<circle cx="678.40" cy="170.11" r="1.50" fill="#777"/>
<circle cx="678.40" cy="174.94" r="1.50" fill="#666"/>
<circle cx="678.40" cy="178.39" r="1.50" fill="#888"/>
<circle cx="678.40" cy="188.74" r="1.50" fill="#bbb"/>
<circle cx="681.50" cy="205.30" r="1.50" fill="#333"/>
<circle cx="681.16" cy="207.37" r="1.50" fill="#bbb"/>
<circle cx="671.50" cy="191.50" r="1.50" fill="#999"/>
<circle cx="670.81" cy="202.54" r="1.50" fill="#777"/>
<circle cx="680.47" cy="207.37" r="1.50" fill="#bbb"/>
<circle cx="688.06" cy="177.70" r="1.50" fill="#777"/>
<circle cx="761.20" cy="177.70" r="1.50" fill="#ccc"/>
<circle cx="768.10" cy="210.82" r="1.50" fill="#ccc"/>
<circle cx="768.10" cy="217.03" r="1.50" fill="#ccc"/>
<circle cx="673.57" cy="203.23" r="1.50" fill="#999"/>
<circle cx="665.98" cy="197.02" r="1.50" fill="#aaa"/>
<line x1="568.0" y1="226.0" x2="775.5" y2="18.3" stroke="#fff" stroke-opacity="0.17" stroke-width="1.25"/>
</g>
<rect x="568.00" y="18.30" width="207.50" height="207.70" fill="none" stroke="#333" stroke-width="1.4"/>
<line x1="568.00" y1="226.00" x2="568.00" y2="228.00" stroke="#111" stroke-width="1.1"/>
<line x1="623.20" y1="226.00" x2="623.20" y2="228.00" stroke="#111" stroke-width="1.1"/>
<line x1="678.40" y1="226.00" x2="678.40" y2="228.00" stroke="#111" stroke-width="1.1"/>
<line x1="733.60" y1="226.00" x2="733.60" y2="228.00" stroke="#111" stroke-width="1.1"/>
<line x1="566.00" y1="226.00" x2="568.00" y2="226.00" stroke="#111" stroke-width="1"/>
<line x1="566.00" y1="170.80" x2="568.00" y2="170.80" stroke="#111" stroke-width="1"/>
<line x1="566.00" y1="115.60" x2="568.00" y2="115.60" stroke="#111" stroke-width="1"/>
<line x1="566.00" y1="60.40" x2="568.00" y2="60.40" stroke="#111" stroke-width="1"/>
<text transform="translate(568.00,240.00) scale(1.1,1)" font-family='"Liberation Sans", sans-serif' font-size="10.7" text-anchor="middle" fill="#111" stroke="#111" stroke-width="0.18">0</text>
<text transform="translate(561.50,228.90) scale(1.1,1)" font-family='"Liberation Sans", sans-serif' font-size="10.7" text-anchor="end" fill="#111" stroke="#111" stroke-width="0.18">0</text>
<text transform="translate(623.20,240.00) scale(1.1,1)" font-family='"Liberation Sans", sans-serif' font-size="10.7" text-anchor="middle" fill="#111" stroke="#111" stroke-width="0.18">8</text>
<text transform="translate(561.50,173.70) scale(1.1,1)" font-family='"Liberation Sans", sans-serif' font-size="10.7" text-anchor="end" fill="#111" stroke="#111" stroke-width="0.18">8</text>
<text transform="translate(678.40,240.00) scale(1.1,1)" font-family='"Liberation Sans", sans-serif' font-size="10.7" text-anchor="middle" fill="#111" stroke="#111" stroke-width="0.18">16</text>
<text transform="translate(561.50,118.50) scale(1.1,1)" font-family='"Liberation Sans", sans-serif' font-size="10.7" text-anchor="end" fill="#111" stroke="#111" stroke-width="0.18">16</text>
<text transform="translate(733.60,240.00) scale(1.1,1)" font-family='"Liberation Sans", sans-serif' font-size="10.7" text-anchor="middle" fill="#111" stroke="#111" stroke-width="0.18">24</text>
<text transform="translate(561.50,63.30) scale(1.1,1)" font-family='"Liberation Sans", sans-serif' font-size="10.7" text-anchor="end" fill="#111" stroke="#111" stroke-width="0.18">24</text>
<text x="676.90" y="10.30" font-family='"Liberation Sans", sans-serif' font-size="12.2" font-weight="400" text-anchor="middle" fill="#111" stroke="#111" stroke-width="0.3" >CopyRighter vs PAPRICA</text>
<text x="670.00" y="256.60" font-family='"Liberation Sans", sans-serif' font-size="12" font-weight="400" text-anchor="middle" fill="#111" stroke="#111" stroke-width="0.3" >PAPRICA</text>
<text x="538.00" y="123.60" font-family='"Liberation Sans", sans-serif' font-size="12" font-weight="400" text-anchor="middle" fill="#111" stroke="#111" stroke-width="0.3" transform="rotate(-90 538 123.6)">CopyRighter</text>
<text x="572.30" y="36.50" font-family='"Liberation Sans", sans-serif' font-size="12" font-weight="400" text-anchor="start" fill="#111" stroke="#111" stroke-width="0.3" >R2 = -0.13</text>
<text x="572.30" y="50.80" font-family='"Liberation Sans", sans-serif' font-size="12" font-weight="400" text-anchor="start" fill="#111" stroke="#111" stroke-width="0.3" >n = 153,375</text>
<text x="534.50" y="19.70" font-family='"Liberation Sans", sans-serif' font-size="20" font-weight="700" text-anchor="start" fill="#111" stroke="#111" stroke-width="0" >c</text>
<defs><clipPath id="cd"><rect x="42.5" y="279.5" width="207.5" height="207.89999999999998"/></clipPath></defs>
<g clip-path="url(#cd)">
<path d="M55.50,373.48 L81.50,430.54 L107.50,416.33 L133.50,442.29 L159.50,567.74" fill="none" stroke="#474747" stroke-width="1.8" stroke-linejoin="round"/>
<circle cx="55.50" cy="373.48" r="3.0" fill="#6a6a6a" stroke="#474747" stroke-width="0.9"/>
<circle cx="81.50" cy="430.54" r="3.0" fill="#6a6a6a" stroke="#474747" stroke-width="0.9"/>
<circle cx="107.50" cy="416.33" r="3.0" fill="#6a6a6a" stroke="#474747" stroke-width="0.9"/>
<circle cx="133.50" cy="442.29" r="3.0" fill="#6a6a6a" stroke="#474747" stroke-width="0.9"/>
</g>
<rect x="42.50" y="279.50" width="207.50" height="207.90" fill="none" stroke="#222" stroke-width="1.3"/>
<line x1="42.50" y1="487.40" x2="42.50" y2="489.40" stroke="#111" stroke-width="1.1"/>
<line x1="94.50" y1="487.40" x2="94.50" y2="489.40" stroke="#111" stroke-width="1.1"/>
<line x1="146.50" y1="487.40" x2="146.50" y2="489.40" stroke="#111" stroke-width="1.1"/>
<line x1="198.50" y1="487.40" x2="198.50" y2="489.40" stroke="#111" stroke-width="1.1"/>
<line x1="40.50" y1="487.40" x2="42.50" y2="487.40" stroke="#111" stroke-width="1"/>
<line x1="40.50" y1="446.20" x2="42.50" y2="446.20" stroke="#111" stroke-width="1"/>
<line x1="40.50" y1="405.00" x2="42.50" y2="405.00" stroke="#111" stroke-width="1"/>
<line x1="40.50" y1="363.80" x2="42.50" y2="363.80" stroke="#111" stroke-width="1"/>
<line x1="40.50" y1="322.60" x2="42.50" y2="322.60" stroke="#111" stroke-width="1"/>
<line x1="40.50" y1="281.40" x2="42.50" y2="281.40" stroke="#111" stroke-width="1"/>
<text transform="translate(42.50,501.00) scale(1.14,1)" font-family='"Liberation Sans", sans-serif' font-size="10.7" text-anchor="middle" fill="#111" stroke="#111" stroke-width="0.18">0</text>
<text transform="translate(94.50,501.00) scale(1.14,1)" font-family='"Liberation Sans", sans-serif' font-size="10.7" text-anchor="middle" fill="#111" stroke="#111" stroke-width="0.18">10</text>
<text transform="translate(146.50,501.00) scale(1.14,1)" font-family='"Liberation Sans", sans-serif' font-size="10.7" text-anchor="middle" fill="#111" stroke="#111" stroke-width="0.18">20</text>
<text transform="translate(198.50,501.00) scale(1.14,1)" font-family='"Liberation Sans", sans-serif' font-size="10.7" text-anchor="middle" fill="#111" stroke="#111" stroke-width="0.18">30</text>
<text transform="translate(35.50,490.60) scale(1.06,1)" font-family='"Liberation Sans", sans-serif' font-size="10.7" text-anchor="end" fill="#111" stroke="#111" stroke-width="0.18">0.0</text>
<text transform="translate(35.50,449.40) scale(1.06,1)" font-family='"Liberation Sans", sans-serif' font-size="10.7" text-anchor="end" fill="#111" stroke="#111" stroke-width="0.18">0.2</text>
<text transform="translate(35.50,408.20) scale(1.06,1)" font-family='"Liberation Sans", sans-serif' font-size="10.7" text-anchor="end" fill="#111" stroke="#111" stroke-width="0.18">0.4</text>
<text transform="translate(35.50,367.00) scale(1.06,1)" font-family='"Liberation Sans", sans-serif' font-size="10.7" text-anchor="end" fill="#111" stroke="#111" stroke-width="0.18">0.6</text>
<text transform="translate(35.50,325.80) scale(1.06,1)" font-family='"Liberation Sans", sans-serif' font-size="10.7" text-anchor="end" fill="#111" stroke="#111" stroke-width="0.18">0.8</text>
<text transform="translate(35.50,284.60) scale(1.06,1)" font-family='"Liberation Sans", sans-serif' font-size="10.7" text-anchor="end" fill="#111" stroke="#111" stroke-width="0.18">1.0</text>
<text x="76.40" y="516.90" font-family='"Liberation Sans", sans-serif' font-size="12.3" font-weight="400" text-anchor="start" fill="#111" stroke="#111" stroke-width="0.3" >NSTD (% subst. per site)</text>
<defs><clipPath id="ce"><rect x="304.6" y="280.2" width="207.89999999999998" height="207.5"/></clipPath></defs>
<g clip-path="url(#ce)">
<path d="M317.60,388.82 L343.60,391.50 L369.60,472.66 L395.60,652.50" fill="none" stroke="#474747" stroke-width="1.8" stroke-linejoin="round"/>
<circle cx="317.60" cy="388.82" r="3.0" fill="#6a6a6a" stroke="#474747" stroke-width="0.9"/>
<circle cx="343.60" cy="391.50" r="3.0" fill="#6a6a6a" stroke="#474747" stroke-width="0.9"/>
<circle cx="369.60" cy="472.66" r="3.0" fill="#6a6a6a" stroke="#474747" stroke-width="0.9"/>
</g>
<rect x="304.60" y="280.20" width="207.90" height="207.50" fill="none" stroke="#222" stroke-width="1.3"/>
<line x1="304.60" y1="487.70" x2="304.60" y2="489.70" stroke="#111" stroke-width="1.1"/>
<line x1="356.60" y1="487.70" x2="356.60" y2="489.70" stroke="#111" stroke-width="1.1"/>
<line x1="408.60" y1="487.70" x2="408.60" y2="489.70" stroke="#111" stroke-width="1.1"/>
<line x1="460.60" y1="487.70" x2="460.60" y2="489.70" stroke="#111" stroke-width="1.1"/>
<line x1="302.60" y1="487.70" x2="304.60" y2="487.70" stroke="#111" stroke-width="1"/>
<line x1="302.60" y1="446.50" x2="304.60" y2="446.50" stroke="#111" stroke-width="1"/>
<line x1="302.60" y1="405.30" x2="304.60" y2="405.30" stroke="#111" stroke-width="1"/>
<line x1="302.60" y1="364.10" x2="304.60" y2="364.10" stroke="#111" stroke-width="1"/>
<line x1="302.60" y1="322.90" x2="304.60" y2="322.90" stroke="#111" stroke-width="1"/>
<line x1="302.60" y1="281.70" x2="304.60" y2="281.70" stroke="#111" stroke-width="1"/>
<text transform="translate(304.60,501.30) scale(1.14,1)" font-family='"Liberation Sans", sans-serif' font-size="10.7" text-anchor="middle" fill="#111" stroke="#111" stroke-width="0.18">0</text>
<text transform="translate(356.60,501.30) scale(1.14,1)" font-family='"Liberation Sans", sans-serif' font-size="10.7" text-anchor="middle" fill="#111" stroke="#111" stroke-width="0.18">10</text>
<text transform="translate(408.60,501.30) scale(1.14,1)" font-family='"Liberation Sans", sans-serif' font-size="10.7" text-anchor="middle" fill="#111" stroke="#111" stroke-width="0.18">20</text>
<text transform="translate(460.60,501.30) scale(1.14,1)" font-family='"Liberation Sans", sans-serif' font-size="10.7" text-anchor="middle" fill="#111" stroke="#111" stroke-width="0.18">30</text>
<text transform="translate(297.60,490.90) scale(1.06,1)" font-family='"Liberation Sans", sans-serif' font-size="10.7" text-anchor="end" fill="#111" stroke="#111" stroke-width="0.18">0.0</text>
<text transform="translate(297.60,449.70) scale(1.06,1)" font-family='"Liberation Sans", sans-serif' font-size="10.7" text-anchor="end" fill="#111" stroke="#111" stroke-width="0.18">0.2</text>
<text transform="translate(297.60,408.50) scale(1.06,1)" font-family='"Liberation Sans", sans-serif' font-size="10.7" text-anchor="end" fill="#111" stroke="#111" stroke-width="0.18">0.4</text>
<text transform="translate(297.60,367.30) scale(1.06,1)" font-family='"Liberation Sans", sans-serif' font-size="10.7" text-anchor="end" fill="#111" stroke="#111" stroke-width="0.18">0.6</text>
<text transform="translate(297.60,326.10) scale(1.06,1)" font-family='"Liberation Sans", sans-serif' font-size="10.7" text-anchor="end" fill="#111" stroke="#111" stroke-width="0.18">0.8</text>
<text transform="translate(297.60,284.90) scale(1.06,1)" font-family='"Liberation Sans", sans-serif' font-size="10.7" text-anchor="end" fill="#111" stroke="#111" stroke-width="0.18">1.0</text>
<text x="329.60" y="517.00" font-family='"Liberation Sans", sans-serif' font-size="12.3" font-weight="400" text-anchor="start" fill="#111" stroke="#111" stroke-width="0.3" >NSTD (% subst. per site)</text>
<defs><clipPath id="cf"><rect x="568.8" y="280.8" width="207.70000000000005" height="208.0"/></clipPath></defs>
<g clip-path="url(#cf)">
<path d="M581.80,354.90 L607.80,462.43 L633.80,485.30" fill="none" stroke="#474747" stroke-width="1.8" stroke-linejoin="round"/>
<circle cx="581.80" cy="354.90" r="3.0" fill="#6a6a6a" stroke="#474747" stroke-width="0.9"/>
<circle cx="607.80" cy="462.43" r="3.0" fill="#6a6a6a" stroke="#474747" stroke-width="0.9"/>
<circle cx="633.80" cy="485.30" r="3.0" fill="#6a6a6a" stroke="#474747" stroke-width="0.9"/>
</g>
<rect x="568.80" y="280.80" width="207.70" height="208.00" fill="none" stroke="#222" stroke-width="1.3"/>
<line x1="568.80" y1="488.80" x2="568.80" y2="490.80" stroke="#111" stroke-width="1.1"/>
<line x1="620.80" y1="488.80" x2="620.80" y2="490.80" stroke="#111" stroke-width="1.1"/>
<line x1="672.80" y1="488.80" x2="672.80" y2="490.80" stroke="#111" stroke-width="1.1"/>
<line x1="724.80" y1="488.80" x2="724.80" y2="490.80" stroke="#111" stroke-width="1.1"/>
<line x1="566.80" y1="488.80" x2="568.80" y2="488.80" stroke="#111" stroke-width="1"/>
<line x1="566.80" y1="447.60" x2="568.80" y2="447.60" stroke="#111" stroke-width="1"/>
<line x1="566.80" y1="406.40" x2="568.80" y2="406.40" stroke="#111" stroke-width="1"/>
<line x1="566.80" y1="365.20" x2="568.80" y2="365.20" stroke="#111" stroke-width="1"/>
<line x1="566.80" y1="324.00" x2="568.80" y2="324.00" stroke="#111" stroke-width="1"/>
<line x1="566.80" y1="282.80" x2="568.80" y2="282.80" stroke="#111" stroke-width="1"/>
<text transform="translate(568.80,502.40) scale(1.14,1)" font-family='"Liberation Sans", sans-serif' font-size="10.7" text-anchor="middle" fill="#111" stroke="#111" stroke-width="0.18">0</text>
<text transform="translate(620.80,502.40) scale(1.14,1)" font-family='"Liberation Sans", sans-serif' font-size="10.7" text-anchor="middle" fill="#111" stroke="#111" stroke-width="0.18">10</text>
<text transform="translate(672.80,502.40) scale(1.14,1)" font-family='"Liberation Sans", sans-serif' font-size="10.7" text-anchor="middle" fill="#111" stroke="#111" stroke-width="0.18">20</text>
<text transform="translate(724.80,502.40) scale(1.14,1)" font-family='"Liberation Sans", sans-serif' font-size="10.7" text-anchor="middle" fill="#111" stroke="#111" stroke-width="0.18">30</text>
<text transform="translate(561.80,492.00) scale(1.06,1)" font-family='"Liberation Sans", sans-serif' font-size="10.7" text-anchor="end" fill="#111" stroke="#111" stroke-width="0.18">0.0</text>
<text transform="translate(561.80,450.80) scale(1.06,1)" font-family='"Liberation Sans", sans-serif' font-size="10.7" text-anchor="end" fill="#111" stroke="#111" stroke-width="0.18">0.2</text>
<text transform="translate(561.80,409.60) scale(1.06,1)" font-family='"Liberation Sans", sans-serif' font-size="10.7" text-anchor="end" fill="#111" stroke="#111" stroke-width="0.18">0.4</text>
<text transform="translate(561.80,368.40) scale(1.06,1)" font-family='"Liberation Sans", sans-serif' font-size="10.7" text-anchor="end" fill="#111" stroke="#111" stroke-width="0.18">0.6</text>
<text transform="translate(561.80,327.20) scale(1.06,1)" font-family='"Liberation Sans", sans-serif' font-size="10.7" text-anchor="end" fill="#111" stroke="#111" stroke-width="0.18">0.8</text>
<text transform="translate(561.80,286.00) scale(1.06,1)" font-family='"Liberation Sans", sans-serif' font-size="10.7" text-anchor="end" fill="#111" stroke="#111" stroke-width="0.18">1.0</text>
<text x="596.60" y="517.40" font-family='"Liberation Sans", sans-serif' font-size="12.3" font-weight="400" text-anchor="start" fill="#111" stroke="#111" stroke-width="0.3" >NSTD (% subst. per site)</text>
<text x="7.50" y="272.80" font-family='"Liberation Sans", sans-serif' font-size="20" font-weight="700" text-anchor="start" fill="#111" stroke="#111" stroke-width="0" >d</text>
<text x="270.50" y="272.80" font-family='"Liberation Sans", sans-serif' font-size="20" font-weight="700" text-anchor="start" fill="#111" stroke="#111" stroke-width="0" >e</text>
<text x="536.00" y="272.50" font-family='"Liberation Sans", sans-serif' font-size="20" font-weight="700" text-anchor="start" fill="#111" stroke="#111" stroke-width="0" >f</text>
<text transform="translate(0.2,388.8) scale(1.22,1)" font-family='"Liberation Serif", serif' font-size="16.5" font-style="italic" fill="#111">R</text>
<text transform="translate(12.6,383) scale(1.3,1)" font-family='"Liberation Serif", serif' font-size="11" fill="#111">2</text>
</g>
</svg></body></html>
